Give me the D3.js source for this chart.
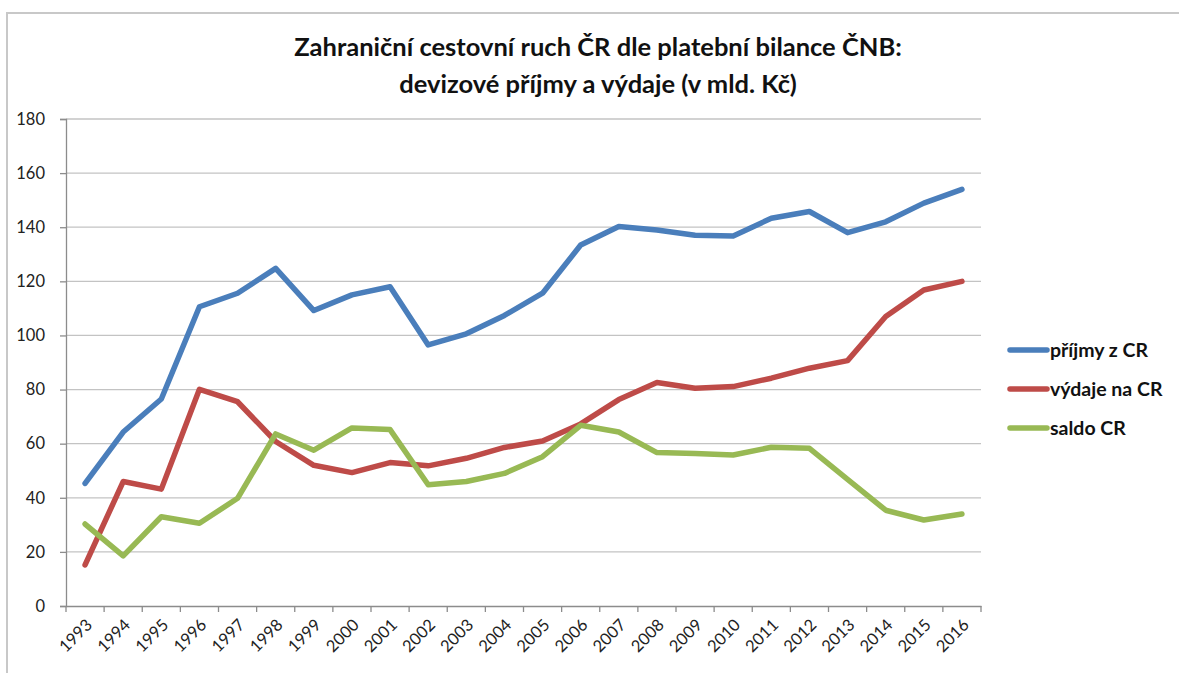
<!DOCTYPE html>
<html><head><meta charset="utf-8">
<script src="https://cdn.jsdelivr.net/npm/d3@7"></script>
<style>body{margin:0;background:#fff;} svg{display:block;}</style>
</head><body>
<svg id="c" width="1179" height="673"></svg>
<script>
const years = ["1993","1994","1995","1996","1997","1998","1999","2000","2001","2002","2003","2004","2005","2006","2007","2008","2009","2010","2011","2012","2013","2014","2015","2016"];
const prijmy = [45.3,64.3,76.5,110.6,115.6,124.8,109.2,115,118,96.5,100.6,107.4,115.6,133.4,140.3,139,137,136.8,143.3,145.8,138,142,148.9,154];
const vydaje = [15.2,46,43.2,80.1,75.5,60.8,52,49.3,53,51.8,54.6,58.6,61,67.3,76.3,82.6,80.5,81.1,84.2,87.9,90.7,107,116.8,120];
const saldo = [30.3,18.5,33,30.6,39.8,63.6,57.6,65.8,65.2,44.8,46,49,55.2,66.8,64.3,56.7,56.4,55.8,58.7,58.3,46.8,35.4,31.8,34];
const yTicks = [0,20,40,60,80,100,120,140,160,180];
const seriesNames = ["příjmy z CR","výdaje na CR","saldo CR"];
const seriesColors = ["#4A7EBB","#BE4B48","#98B954"];
const titleLines = ["Zahraniční cestovní ruch ČR dle platební bilance ČNB:","devizové příjmy a výdaje (v mld. Kč)"];

const svg = d3.select("#c");
const font = "Lato, 'Open Sans', sans-serif";
// frame
svg.append("path").attr("d","M7,673 L7,13 L1179,13").attr("fill","none").attr("stroke","#c8c8c8").attr("stroke-width",2);

const L=66,R=981,T=119,B=606;
const x = d3.scaleBand().domain(years).range([L,R]);
const y = d3.scaleLinear().domain([0,180]).range([B,T]);

// gridlines
svg.append("g").selectAll("line").data(yTicks.filter(d=>d>0)).join("line")
  .attr("x1",L).attr("x2",R).attr("y1",d=>y(d)).attr("y2",d=>y(d))
  .attr("stroke","#c3c3c3").attr("stroke-width",1.3);

// y axis
const ya = svg.append("g").attr("transform",`translate(${L},0)`)
  .call(d3.axisLeft(y).tickValues(yTicks).tickSize(6).tickPadding(15));
ya.select(".domain").attr("stroke","#8c8c8c").attr("stroke-width",1.3);
ya.selectAll(".tick line").attr("stroke","#8c8c8c").attr("stroke-width",1.3);
ya.selectAll("text").attr("font-family",font).attr("font-size",16.5).attr("fill","#222");

// x axis
const xa = svg.append("g").attr("transform",`translate(0,${B})`)
  .call(d3.axisBottom(x).tickSize(0).tickFormat(""));
xa.select(".domain").attr("stroke","#8c8c8c").attr("stroke-width",1.3);
svg.append("g").selectAll("text").data(years).join("text")
  .attr("transform",d=>`translate(${x(d)+x.bandwidth()/2+4},${B+16}) rotate(-45)`)
  .attr("text-anchor","end").attr("dy","0.35em")
  .attr("font-family",font).attr("font-size",16.5).attr("fill","#222").text(d=>d);
// boundary ticks
const bounds = years.map(d=>x(d)).concat([R]);
svg.append("g").selectAll("line").data(bounds).join("line")
  .attr("x1",d=>d).attr("x2",d=>d).attr("y1",B).attr("y2",B+6)
  .attr("stroke","#8c8c8c").attr("stroke-width",1.3);

// lines
const line = d3.line().x((d,i)=>x(years[i])+x.bandwidth()/2).y(d=>y(d));
[prijmy,vydaje,saldo].forEach((s,i)=>{
  svg.append("path").datum(s).attr("d",line).attr("fill","none")
    .attr("stroke",seriesColors[i]).attr("stroke-width",5.5)
    .attr("stroke-linejoin","round").attr("stroke-linecap","round");
});

// title
svg.append("g").selectAll("text").data(titleLines).join("text")
  .attr("x",598).attr("y",(d,i)=>56+i*37).attr("text-anchor","middle")
  .attr("font-family",font).attr("font-weight","bold").attr("font-size",25.5).attr("fill","#111")
  .text(d=>d);

// legend
const lg = svg.append("g");
seriesNames.forEach((n,i)=>{
  const yy = 350+i*39;
  lg.append("line").attr("x1",1010).attr("x2",1047).attr("y1",yy).attr("y2",yy)
    .attr("stroke",seriesColors[i]).attr("stroke-width",5.5).attr("stroke-linecap","round");
  lg.append("text").attr("x",1050).attr("y",yy).attr("dy","0.35em")
    .attr("font-family",font).attr("font-weight","bold").attr("font-size",19.5).attr("fill","#111").text(n);
});
</script>
</body></html>
